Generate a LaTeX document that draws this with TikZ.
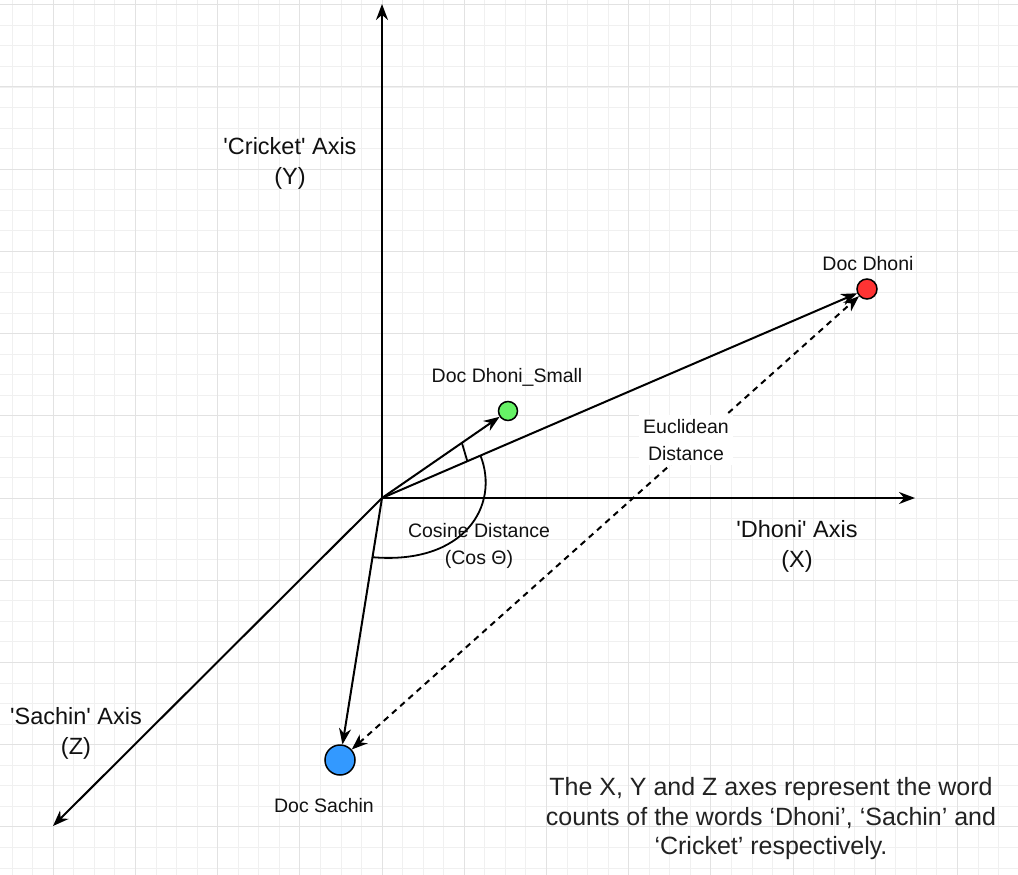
\documentclass[tikz,border=0pt]{standalone}
\usepackage{fontspec}
\setmainfont{Liberation Sans}
\usetikzlibrary{arrows.meta,calc}
\definecolor{gridminor}{HTML}{F0F0F0}
\definecolor{gridmajor}{HTML}{E2E2E2}
\definecolor{dred}{HTML}{FF3333}
\definecolor{dgreen}{HTML}{66F266}
\definecolor{dblue}{HTML}{3399FF}
\definecolor{txt}{HTML}{111111}
\definecolor{notetxt}{HTML}{222222}
\newcommand{\sq}{\textquotesingle}
\begin{document}
\begin{tikzpicture}[x=1pt,y=-1pt,
  tip/.style={-{Stealth[length=16pt,width=12pt]}},
  axisline/.style={line width=2pt, tip},
  vecline/.style={line width=2pt, tip},
  eucline/.style={line width=2pt, dash pattern=on 6pt off 5pt, {Stealth[length=16pt,width=12pt]}-{Stealth[length=16pt,width=12pt]}},
  anglemark/.style={line width=1.8pt},
  docdot/.style={circle, draw=black, line width=1.5pt, inner sep=0pt},
  axlabel/.style={align=center, font=\fontsize{23.5}{30}\selectfont, text=txt, inner sep=0pt},
  lbl/.style={align=center, font=\fontsize{19.5}{27}\selectfont, text=txt, inner sep=0pt},
  notelbl/.style={align=center, font=\fontsize{25}{29.5}\selectfont, text=notetxt, inner sep=0pt}]
% background and bounding box
\fill[white] (0,0) rectangle (1018,875);
\useasboundingbox (0,0) rectangle (1018,875);
% grid
\foreach \i in {0,...,48} \draw[gridminor, line width=0.8pt] ({12.1+\i*20.55},0) -- ({12.1+\i*20.55},875);
\foreach \i in {0,...,42} \draw[gridminor, line width=0.8pt] (0,{4.8+\i*20.55}) -- (1018,{4.8+\i*20.55});
\foreach \i in {0,...,11} \draw[gridmajor, line width=1pt] ({53.2+\i*82.2},0) -- ({53.2+\i*82.2},875);
\foreach \i in {0,...,10} \draw[gridmajor, line width=1pt] (0,{4.8+\i*82.2}) -- (1018,{4.8+\i*82.2});
% coordinates
\coordinate (O) at (382,498);
\coordinate (yend) at (382,4);
\coordinate (xend) at (915,498);
\coordinate (zend) at (53,826);
% documents
\node[docdot, fill=dred, minimum size=20pt] (dhoni) at (867,289) {};
\node[docdot, fill=dgreen, minimum size=19pt] (small) at (508,411) {};
\node[docdot, fill=dblue, minimum size=30pt] (sachin) at (340,760) {};
% axes
\draw[axisline] (O) -- (yend);
\draw[axisline] (O) -- (xend);
\draw[axisline] (O) -- (zend);
% vectors
\draw[vecline] (O) -- (dhoni);
\draw[vecline] (O) -- (small);
\draw[vecline] (O) -- (sachin);
% angle marks
\coordinate (m1) at ($(O)!0.634!(small)$);
\coordinate (m2) at ($(O)!0.176!(dhoni)$);
\draw[anglemark] (m1) -- (m2);
\coordinate (a1) at ($(O)!0.203!(dhoni)$);
\coordinate (a2) at ($(O)!0.226!(sachin)$);
\draw[anglemark] (a1) .. controls (500,505) and (465,565) .. (a2);
% euclidean distance
\draw[eucline] (sachin) -- (dhoni);
\node[lbl, fill=white, inner sep=4pt] (euc) at (686,440) {Euclidean\\Distance};
% labels
\node[lbl] (cos) at (479,546) {Cosine Distance\\(Cos Θ)};
\node[lbl] (ldhoni) at (868,264) {Doc Dhoni};
\node[lbl] (lsmall) at (507,377) {Doc Dhoni\_Small};
\node[lbl] (lsachin) at (324,806) {Doc Sachin};
\node[axlabel] (ly) at (290,163) {\sq Cricket\sq{} Axis\\(Y)};
\node[axlabel] (lx) at (797,546) {\sq Dhoni\sq{} Axis\\(X)};
\node[axlabel] (lz) at (76,733) {\sq Sachin\sq{} Axis\\(Z)};
\node[notelbl] (note) at (771,819) {The X, Y and Z axes represent the word\\counts of the words ‘Dhoni’, ‘Sachin’ and\\‘Cricket’ respectively.};
\end{tikzpicture}
\end{document}
